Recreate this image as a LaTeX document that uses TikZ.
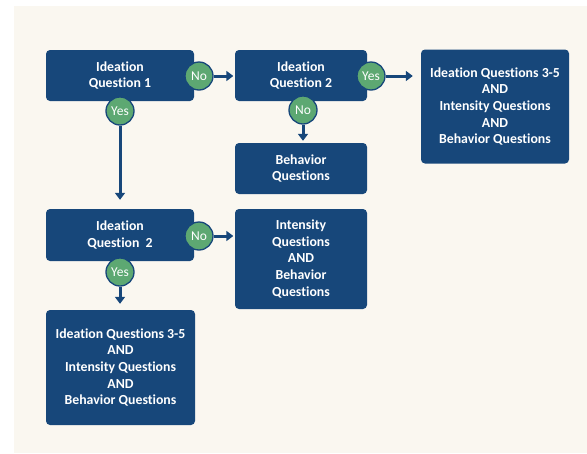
\documentclass[tikz,border=0pt]{standalone}
\usepackage{fontspec}
\setmainfont{Carlito}[Ligatures={NoCommon,NoRare}]
\usetikzlibrary{arrows.meta}
\definecolor{boxblue}{HTML}{17477A}
\definecolor{okgreen}{HTML}{5DA872}
\definecolor{bgc}{HTML}{FAF7F0}
\begin{document}
\begin{tikzpicture}[x=1pt,y=-1pt,
 qbox/.style={fill=boxblue, rounded corners=4pt, text=white, align=center, font=\bfseries\fontsize{13.8}{16.6}\selectfont, inner sep=0pt},
 ans/.style={circle, fill=okgreen, draw=boxblue, line width=1.3pt, text=white, minimum size=28pt, inner sep=0pt, font=\fontsize{13.5}{15}\selectfont},
 link/.style={draw=boxblue, line width=3pt, -{Triangle[length=7pt,width=10pt]}}]
\useasboundingbox (0,0) rectangle (587,453);
\fill[bgc] (14,6) rectangle (587,453);
% boxes
\node[qbox, minimum width=148pt, minimum height=51pt] (b1) at (120,75.5) {Ideation\\Question 1};
\node[qbox, minimum width=132pt, minimum height=51pt] (b2) at (301,75.5) {Ideation\\Question 2};
\node[qbox, minimum width=148pt, minimum height=114pt] (b3) at (495,106.5) {Ideation Questions 3-5\\AND\\Intensity Questions\\AND\\Behavior Questions};
\node[qbox, minimum width=132pt, minimum height=51pt] (b4) at (301,168.5) {Behavior\\Questions};
\node[qbox, minimum width=148pt, minimum height=52pt] (b5) at (120,235) {Ideation\\Question\ \ 2};
\node[qbox, minimum width=132pt, minimum height=100pt] (b6) at (301,259) {Intensity\\Questions\\AND\\Behavior\\Questions};
\node[qbox, minimum width=149pt, minimum height=115pt] (b7) at (120.5,367.5) {Ideation Questions 3-5\\AND\\Intensity Questions\\AND\\Behavior Questions};
% answer circles
\node[ans] (c1) at (199,76) {No};
\node[ans] (c2) at (120,111) {Yes};
\node[ans] (c3) at (371,76) {Yes};
\node[ans] (c4) at (303,110) {No};
\node[ans] (c5) at (199,236) {No};
\node[ans] (c6) at (120,272) {Yes};
% connectors
\draw[link, shorten >=1.5pt] (c1.east) -- (c1.east -| b2.west);
\draw[link, shorten >=9pt] (c2.south) -- (c2.south |- b5.north);
\draw[link, shorten >=8pt] (c3.east) -- (c3.east -| b3.west);
\draw[link, shorten >=2pt] (c4.south) -- (c4.south |- b4.north);
\draw[link, shorten >=1.5pt] (c5.east) -- (c5.east -| b6.west);
\draw[link, shorten >=6pt] (c6.south) -- (c6.south |- b7.north);
\end{tikzpicture}
\end{document}
